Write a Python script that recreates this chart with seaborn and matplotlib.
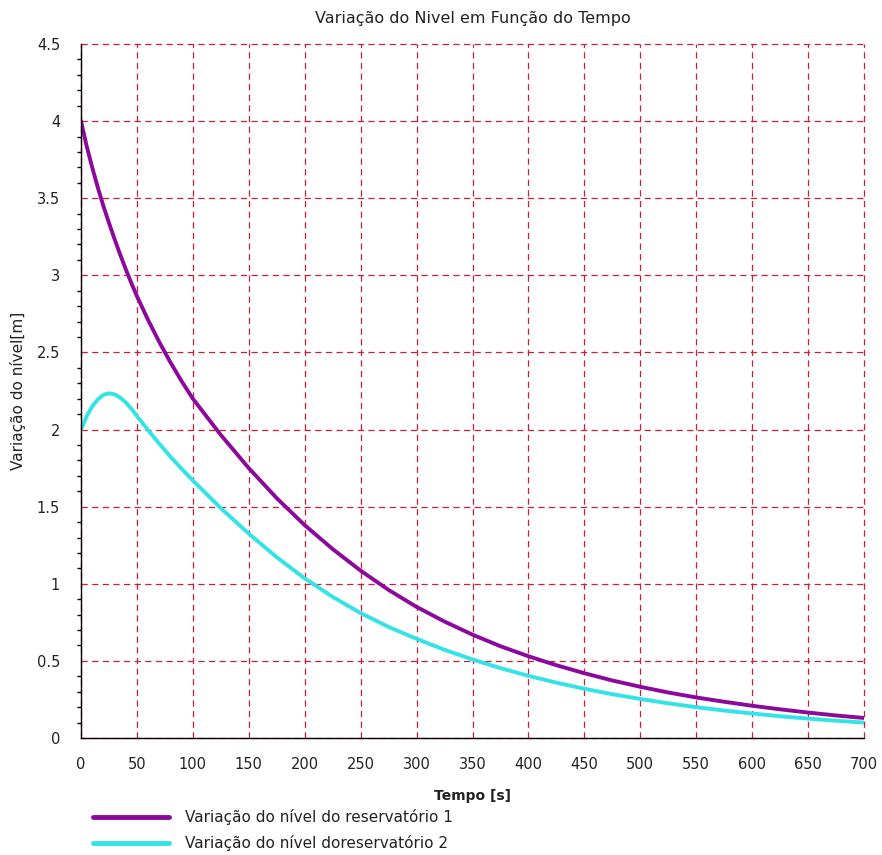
import matplotlib
matplotlib.use('Agg')
import matplotlib.pyplot as plt
import seaborn as sns
from matplotlib.ticker import MultipleLocator

# valores (reservatório 1)
tempo_res1 = [0, 5, 10, 15, 20, 25, 30, 35, 40, 45, 50, 60, 70, 80, 90, 100,
              125, 150, 175, 200, 225, 250, 275, 300, 325, 350, 375, 400, 425,
              450, 475, 500, 525, 550, 575, 600, 625, 650, 675, 700]
nivel_res1 = [4.00, 3.84, 3.70, 3.57, 3.45, 3.34, 3.235, 3.135, 3.04, 2.95, 2.865,
              2.71, 2.567, 2.435, 2.313, 2.20, 1.965, 1.75, 1.555, 1.38, 1.225,
              1.085, 0.96, 0.85, 0.755, 0.67, 0.595, 0.53, 0.472, 0.42, 0.373,
              0.332, 0.295, 0.263, 0.235, 0.209, 0.186, 0.165, 0.146, 0.13]

# valores (reservatório 2)
tempo_res2 = [0, 5, 10, 15, 20, 25, 30, 35, 40, 45, 50, 60, 70, 80, 90, 100,
              125, 150, 175, 200, 225, 250, 275, 300, 325, 350, 375, 400, 425,
              450, 475, 500, 525, 550, 575, 600, 625, 650, 675, 700]
nivel_res2 = [2.00, 2.085, 2.15, 2.195, 2.225, 2.235, 2.228, 2.207, 2.176, 2.135,
              2.088, 1.996, 1.908, 1.824, 1.745, 1.67, 1.49, 1.325, 1.172, 1.035,
              0.915, 0.81, 0.72, 0.643, 0.572, 0.509, 0.453, 0.403, 0.359, 0.319,
              0.284, 0.253, 0.225, 0.20, 0.178, 0.159, 0.141, 0.126, 0.112, 0.10]

legenda = ['Variação do nível do reservatório 1', 'Variação do nível doreservatório 2']
cores = ['#8b0a9c', '#33e3e6']

sns.set_style('white')
plt.rcParams['font.family'] = ['DejaVu Sans']

fig = plt.figure(figsize=(8.82, 8.55), dpi=100)
ax = fig.add_axes([81 / 882, 1 - 738 / 855, 783 / 882, 694 / 855])

sns.lineplot(x=tempo_res1, y=nivel_res1, color=cores[0], linewidth=2.8, label=legenda[0], ax=ax)
sns.lineplot(x=tempo_res2, y=nivel_res2, color=cores[1], linewidth=2.8, label=legenda[1], ax=ax)

ax.set_xlim(0, 700)
ax.set_ylim(0, 4.5)
ax.xaxis.set_major_locator(MultipleLocator(50))
ax.yaxis.set_minor_locator(MultipleLocator(0.1))
ax.set_yticks([0, 0.5, 1, 1.5, 2, 2.5, 3, 3.5, 4, 4.5])
ax.set_yticklabels(['0', '0.5', '1', '1.5', '2', '2.5', '3', '3.5', '4', '4.5'])

ax.grid(True, which='major', color='#c8203c', linestyle=(0, (5, 3.5)), linewidth=0.9)
ax.set_axisbelow(True)
for gl in ax.get_xgridlines() + ax.get_ygridlines():
    gl.set_clip_on(False)
for s in ['top', 'right']:
    ax.spines[s].set_visible(False)
for s in ['left', 'bottom']:
    ax.spines[s].set_color('black')
    ax.spines[s].set_linewidth(1.0)
    ax.spines[s].set_zorder(3)

ax.tick_params(axis='both', which='major', direction='out', length=6, width=1,
               color='black', labelsize=10.5, labelcolor='#222222')
ax.tick_params(axis='y', which='major', pad=9)
ax.tick_params(axis='x', which='major', pad=8)
ax.tick_params(axis='y', which='minor', direction='out', length=3, width=1, color='black', left=True)

ax.set_title('Variação do Nivel em Função do Tempo', fontsize=11.5, color='#222222', pad=15)
ax.set_xlabel('Tempo [s]', fontsize=10, fontweight='bold', color='#222222', labelpad=12)
ax.set_ylabel('Variação do nível[m]', fontsize=11, color='#222222', labelpad=8)

handles, labels = ax.get_legend_handles_labels()
ax.get_legend().remove()
leg = fig.legend(handles, labels, loc='upper left', bbox_to_anchor=(93 / 882, 1 - 809 / 855),
                 bbox_transform=fig.transFigure, frameon=False, fontsize=11,
                 handlelength=5.0, handletextpad=1.0, borderpad=0, borderaxespad=0,
                 labelspacing=0.65)
for line in leg.get_lines():
    line.set_linewidth(3.5)
for t in leg.get_texts():
    t.set_color('#222222')

fig.savefig('out.png', dpi=100)
